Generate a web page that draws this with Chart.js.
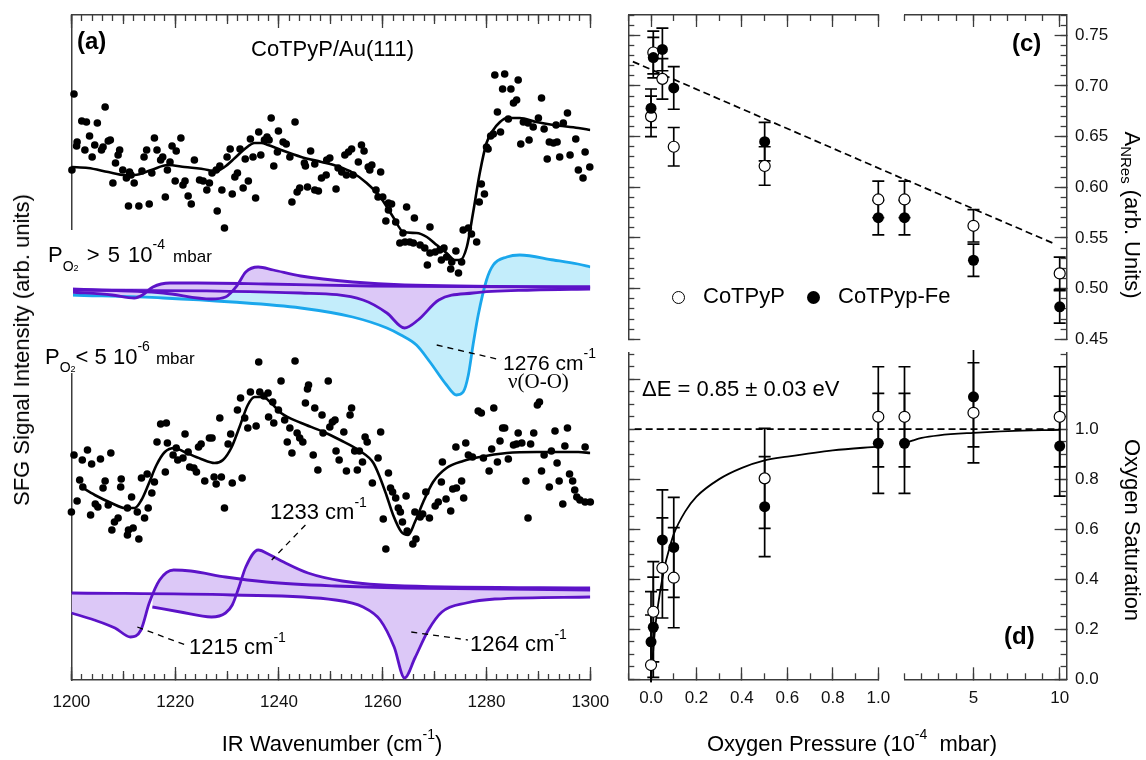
<!DOCTYPE html>
<html>
<head>
<meta charset="utf-8">
<script src="https://cdn.jsdelivr.net/npm/chart.js@4.4.1/dist/chart.umd.min.js"></script>
<style>
html,body{margin:0;padding:0;background:#fff;}
#wrap{position:relative;width:1146px;height:760px;overflow:hidden;background:#fff;font-family:"Liberation Sans",Arial,sans-serif;color:#000;}
canvas{position:absolute;}
.t{position:absolute;white-space:nowrap;line-height:1;z-index:5;}
.b{font-weight:bold;font-size:24px;}
.sup{font-size:14px;position:relative;top:-12px;}
.rot{position:absolute;white-space:nowrap;line-height:1;font-size:22px;z-index:5;}
.dot{position:absolute;width:13px;height:13px;border-radius:50%;box-sizing:border-box;z-index:5;}
</style>
</head>
<body>
<div id="wrap">
<canvas id="cA" width="620" height="730" style="left:0;top:0;width:620px;height:730px"></canvas>
<canvas id="cC1" width="320" height="350" style="left:600px;top:0;width:320px;height:350px"></canvas>
<canvas id="cC2" width="266" height="350" style="left:880px;top:0;width:266px;height:350px"></canvas>
<canvas id="cD1" width="320" height="380" style="left:600px;top:345px;width:320px;height:380px"></canvas>
<canvas id="cD2" width="266" height="380" style="left:880px;top:345px;width:266px;height:380px"></canvas>
<div style="position:absolute;left:68px;top:230px;width:4.5px;height:143px;background:#fff;z-index:4"></div>

<div class="t b" style="left:77px;top:28.7px">(a)</div>
<div class="t" style="left:251px;top:38.4px;font-size:22px">CoTPyP/Au(111)</div>
<div class="t" style="left:48px;top:244.4px;font-size:22px;word-spacing:2px">P<span style="font-size:14px;position:relative;top:9px">O<span style="font-size:9px">2</span></span> &gt; 5 10<span class="sup" style="top:-13px">-4</span> <span style="font-size:17px">mbar</span></div>
<div class="t" style="left:45px;top:346.4px;font-size:22px">P<span style="font-size:14px;position:relative;top:8px">O<span style="font-size:9px">2</span></span>&lt; 5 10<span class="sup" style="top:-13px">-6</span> <span style="font-size:17px">mbar</span></div>
<div class="t" style="left:503px;top:352.2px;font-size:21px">1276 cm<span class="sup">-1</span></div>
<div class="t" style="left:508px;top:371.4px;font-size:21px;font-family:'Liberation Serif',serif">&nu;(O-O)</div>
<div class="t" style="left:270px;top:501.4px;font-size:22px">1233 cm<span class="sup">-1</span></div>
<div class="t" style="left:189px;top:636.4px;font-size:22px">1215 cm<span class="sup">-1</span></div>
<div class="t" style="left:470px;top:633.4px;font-size:22px">1264 cm<span class="sup">-1</span></div>

<div class="t b" style="left:1012px;top:30.7px">(c)</div>
<div class="dot" style="left:671.5px;top:290.5px;border:1.3px solid #000;background:#fff"></div>
<div class="t" style="left:703px;top:285.4px;font-size:22px">CoTPyP</div>
<div class="dot" style="left:806.5px;top:290.5px;background:#000"></div>
<div class="t" style="left:838px;top:285.4px;font-size:22px">CoTPyp-Fe</div>
<div class="t" style="left:642px;top:378.4px;font-size:22px">&Delta;E = 0.85 &plusmn; 0.03 eV</div>
<div class="t b" style="left:1004px;top:623.7px">(d)</div>

<div class="t" style="left:332px;top:733.4px;font-size:22px;transform:translateX(-50%)">IR Wavenumber (cm<span class="sup">-1</span>)</div>
<div class="t" style="left:852px;top:733.4px;font-size:22px;transform:translateX(-50%)">Oxygen Pressure (10<span class="sup">-4</span>&nbsp; mbar)</div>
<div class="rot" style="left:22px;top:350px;transform:translate(-50%,-50%) rotate(-90deg)">SFG Signal Intensity (arb. units)</div>
<div class="rot" style="left:1132px;top:215px;transform:translate(-50%,-50%) rotate(90deg)">A<span style="font-size:15px;position:relative;top:4px">NRes</span> (arb. Units)</div>
<div class="rot" style="left:1132px;top:530px;transform:translate(-50%,-50%) rotate(90deg)">Oxygen Saturation</div>
</div>

<script>
// ================= DATA =================
// Panel (a): tick labels
const aTickValues = [1200, 1220, 1240, 1260, 1280, 1300];

// Panel (a) upper spectrum (PO2 > 5e-4 mbar): measured points
const topWavenumber = [
 1200.5,1200.1,1201.1,1201.0,1202.0,1202.9,1203.5,1202.6,1204.0,1204.5,
 1205.0,1206.5,1205.8,1206.1,1207.1,1207.5,1208.5,1209.0,1209.3,1208.0,
 1209.9,1210.6,1211.2,1211.5,1212.1,1211.0,1213.0,1215.0,1213.6,1214.0,
 1214.5,1215.5,1216.0,1216.5,1217.2,1217.6,1218.1,1218.5,1219.0,1219.4,
 1220.2,1221.1,1220.0,1221.5,1221.9,1222.5,1223.1,1223.7,1224.7,1225.4,
 1226.1,1226.6,1227.1,1227.9,1228.6,1228.1,1229.0,1229.5,1230.0,1230.6,
 1231.0,1231.5,1232.0,1232.5,1233.1,1233.5,1234.1,1234.5,1235.0,1235.5,
 1236.1,1236.5,1237.2,1237.7,1238.1,1238.5,1239.0,1239.9,1239.7,1240.8,
 1241.4,1242.1,1242.5,1243.1,1243.5,1244.0,1244.9,1245.1,1245.5,1246.1,
 1246.9,1246.9,1247.6,1248.2,
 1249.2,1249.8,1249.1,1251.0,1251.4,1252.1,1252.7,1253.4,1254.0,1253.0,
 1254.3,1255.3,1255.9,1256.4,1257.2,1257.9,1257.5,1259.6,1258.7,1259.1,
 1260.0,1261.1,1261.7,1261.1,1260.6,1262.5,1264.6,1263.9,1266.1,1263.3,
 1264.3,1265.2,1265.9,1267.2,1269.1,1268.1,1270.1,1269.1,1271.0,1271.8,
 1271.3,1272.3,1274.1,1268.6,1273.3,1273.1,1274.6,1275.2,1275.5,1276.5,
 1277.1,1278.1,1278.6,1279.0,1279.6,1280.0,1280.3,1280.8,1281.3,1282.1,
 1282.7,1284.2,1285.2,1285.8,1281.6,1283.5,1283.1,1284.7,1286.1,1286.6,
 1288.2,1287.1,1288.0,1289.0,1290.0,1290.6,1291.1,1291.7,1292.1,1292.9,
 1293.6,1293.4,1294.1,1294.8,1295.6,1296.1,1297.2,1297.7,1299.0,1298.6,
 1299.9];
const topSignal = [
 586,510,538,534,559,558,544,530,523,535,
 557,573,530,533,539,540,517,525,530,497,
 510,502,508,505,497,474,474,476,509,523,
 530,507,542,530,520,523,483,510,518,534,
 529,542,499,495,499,484,476,520,500,499,
 490,497,507,510,514,469,490,452,523,531,
 486,503,507,531,492,521,499,541,523,482,
 548,525,540,543,540,562,514,549,528,538,
 536,523,478,558,488,492,517,514,493,529,
 516,490,489,502,
 520,522,505,491,512,508,525,528,531,505,
 505,518,535,529,513,515,510,508,490,483,
 483,477,476,470,459,458,473,447,462,437,
 438,438,437,435,453,432,428,427,430,432,
 420,423,429,415,418,411,407,418,450,452,
 446,438,478,496,486,533,531,544,546,568,
 548,561,577,580,605,606,591,591,600,536,
 540,558,557,553,562,582,551,521,538,537,
 538,555,523,557,567,525,541,510,528,502,
 513];

// Upper fit
const topFitWavenumber = [1200,1203.2,1207.1,1210.3,1212.2,1215.4,1218.6,1221.8,1226.3,1227.6,
 1229.5,1231.5,1233.4,1235.3,1236.6,1237.9,1240.4,1244.3,1248.2,1251.1,
 1254.3,1256.9,1259.5,1262.0,1264.0,1266.5,1268.5,1270.4,1272.3,1273.9,
 1274.9,1276.2,1277.4,1278.7,1280.0,1281.3,1282.6,1283.9,1286.4,1289.6,
 1292.9,1297.7,1300];
const topFitSignal = [513,512,508,505,505,510,515,513,510,508,
 513,522,531,537,537,535,530,523,518,514,
 507,497,483,463,448,447,443,435,427,420,
 420,433,467,507,537,550,558,562,562,558,
 555,552,550];

// Upper components (baseline 392)
const topBaseline = 392;
const cyan1276Wavenumber = [1200,1217.7,1231,1244.2,1254.2,1260.8,1263.5,1266.5,1269.1,1272.3,1274.2,1275.5,1276.5,1277.4,1278.4,1280.0,1281.3,1283.9,1286.4,1292.9,1297.6,1300];
const cyan1276Signal     = [385,382,378,372,363,352,345,335,318,295,285,288,305,335,365,400,415,423,425,420,416,413];
const topC1215Wavenumber = [1200,1207.8,1212.1,1213.7,1215.7,1219,1224.3,1237.6,1257.5,1300];
const topC1215Signal     = [388,385,382,385,393,397,397,396,394,393];
const topC1233Wavenumber = [1200,1217.7,1227,1229.7,1232,1233.6,1236,1238.9,1244.2,1254.2,1264.2,1300];
const topC1233Signal     = [391,387,381,383,395,408,413,410,404,398,395,393];
const topC1264Wavenumber = [1200,1244.2,1256.2,1260.8,1264.2,1266.8,1270.8,1277.4,1289,1300];
const topC1264Signal     = [390,387,380,367,352,360,380,387,390,391];

// Panel (a) lower spectrum (PO2 < 5e-6 mbar)
const bottomWavenumber = [
 1200.5,1203.1,1202.1,1203.9,1205.6,1207.6,1201.6,1202.2,1201.1,1200.0,
 1203.7,1204.6,1205.1,1206.1,1206.5,1207.1,1208.3,1209.0,1207.8,1209.6,
 1209.5,1211.6,1210.8,1211.0,1211.9,1210.8,1213.0,1212.7,1214.1,1214.8,
 1213.5,1214.6,1215.5,1216.0,1216.5,1217.2,1218.3,1218.1,1218.5,1219.6,
 1220.2,1220.5,1221.5,1221.9,1222.5,1222.8,1223.6,1224.1,1224.5,1225.0,
 1225.7,1226.6,1227.1,1227.5,1227.9,1228.9,1228.6,1229.5,1230.2,1230.7,
 1231.0,1232.0,1232.6,1232.9,1233.4,1234.0,1234.5,1235.6,1236.1,1236.3,
 1237.1,1237.9,1238.0,1238.8,1239.0,1240.4,1239.9,1241.1,1241.6,1242.1,
 1242.5,1243.1,1243.5,1244.0,1244.6,1245.1,1245.7,1245.5,1246.6,1246.9,
 1247.5,1248.3,1248.5,
 1249.5,1250.3,1250.8,1249.8,1252.5,1251.0,1251.6,1254.0,1253.7,1253.0,
 1254.6,1255.1,1255.5,1256.1,1256.6,1257.0,1258.0,1259.1,1259.6,1261.1,
 1261.5,1261.9,1260.1,1262.5,1263.0,1263.4,1264.5,1263.8,1264.7,1265.8,
 1266.4,1260.6,1266.2,1267.2,1267.7,1268.3,1269.0,1270.1,1270.7,1271.3,
 1272.2,1271.5,1273.1,1273.5,1274.2,1275.2,1275.6,1274.1,1276.0,1276.5,
 1277.3,1278.4,1279.0,1279.4,1280.5,1281.0,1281.4,1282.1,1282.6,1283.1,
 1283.5,1284.2,1285.2,1285.8,1286.1,1286.8,1287.6,1288.0,1288.5,1289.1,
 1289.8,1290.2,1290.6,1291.1,1292.1,1292.5,1293.2,1293.6,1294.0,1294.7,
 1295.1,1295.6,1296.0,1296.6,1297.0,1297.4,1298.0,1299.0,1300.0,1299.0];
const bottomSignal = [
 225,230,220,216,221,227,200,193,179,168,
 165,176,173,192,199,175,158,162,150,201,
 193,183,172,150,152,145,141,168,162,172,
 202,206,187,198,238,256,257,208,237,225,
 232,220,222,246,228,213,212,208,233,236,
 199,242,242,203,196,203,262,172,236,246,
 197,270,282,202,262,252,288,254,318,288,
 284,287,263,278,257,299,270,260,238,252,
 227,319,247,242,238,277,295,291,225,272,
 210,265,247,
 299,258,260,253,248,229,220,272,265,209,
 229,210,229,218,243,238,197,222,248,207,
 192,188,161,182,172,168,184,158,149,136,
 141,131,168,163,166,188,162,174,178,198,
 181,218,169,191,192,199,182,233,237,225,
 223,269,267,222,209,231,272,218,239,252,
 252,221,235,236,247,237,199,162,236,247,
 275,278,209,225,193,229,249,217,199,176,
 234,252,206,199,190,183,180,178,178,233];

// Lower fit
const bottomFitWavenumber = [1201.9,1204.5,1207.7,1210.3,1212.2,1213.5,1214.8,1216.4,1218,1219.9,
 1221.8,1225,1227.6,1229.2,1230.8,1232.4,1234,1235.3,1236.9,1238.5,
 1240.4,1244.3,1248.2,1251.8,1255.6,1258.2,1259.5,1260.7,1262,1263.6,
 1264.9,1266.2,1267.8,1269.7,1272.3,1275.5,1278.7,1283.9,1289.7,1297.7,1300];
const bottomFitSignal = [193,185,177,172,172,180,195,215,228,232,
 228,221,217,220,232,253,275,283,283,277,
 267,257,249,240,229,217,202,185,165,148,
 145,158,178,198,212,219,223,227,228,228,227];

// Lower components (baseline 87)
const bottomBaseline = 87;
const botC1215Wavenumber = [1200,1204.4,1208.4,1211.4,1213.4,1215.0,1217.0,1219.7,1223.0,1229.7,1237.6,1250.9,1264.2,1300];
const botC1215Signal     = [67,60,52,43,50,77,100,110,109,103,98,94,92,90];
const botC1233Wavenumber = [1215.6,1221.0,1227.0,1229.7,1231.0,1232.3,1233.6,1236.0,1238.3,1240.9,1245.6,1252.2,1264.2,1300];
const botC1233Signal     = [73,68,63,67,75,93,113,130,125,118,107,99,94,92];
const botC1264Wavenumber = [1200,1231,1250.9,1256.2,1259.5,1262.2,1264.2,1266.2,1268.8,1271.4,1276.1,1281.6,1300];
const botC1264Signal     = [87,85,80,73,60,33,2,22,50,68,77,81,83];

// Annotation leader lines (wavenumber, signal)
const lead1276Wavenumber = [1270.4, 1282.8], lead1276Signal = [335, 320];
const lead1233Wavenumber = [1245.1, 1238.6], lead1233Signal = [155, 120];
const lead1215Wavenumber = [1212.7, 1222.0], lead1215Signal = [53, 35];
const lead1264Wavenumber = [1265.5, 1276.4], lead1264Signal = [48, 40];

// Panels (c),(d): oxygen pressure (1e-4 mbar)
const pressure       = [0, 0.01, 0.05, 0.1, 0.5, 1, 5, 10];
const anresCoTPyP    = [0.670, 0.733, 0.707, 0.640, 0.621, 0.588, 0.562, 0.515];
const anresCoTPyPErr = [0.020, 0.021, 0.020, 0.019, 0.019, 0.018, 0.016, 0.016];
const anresFe        = [0.678, 0.728, 0.736, 0.698, 0.645, 0.570, 0.528, 0.482];
const anresFeErr     = [0.019, 0.020, 0.021, 0.021, 0.019, 0.017, 0.016, 0.016];
const satCoTPyP      = [0.057, 0.270, 0.445, 0.406, 0.803, 1.049, 1.065, 1.049];
const satFe          = [0.150, 0.208, 0.557, 0.527, 0.690, 0.943, 1.129, 0.932];
const satErr         = [0.2, 0.2, 0.2, 0.2, 0.2, 0.2, 0.2, 0.2];
// Dashed trend in (c) (left segment / right segment)
const trendLeftP = [-0.08, 1.113], trendLeftA = [0.724, 0.608];
const trendRightP = [1, 9.59], trendRightA = [0.608, 0.545];
// Dashed saturation level in (d)
const satLevelLeftP = [-0.072, 1.113], satLevelLeftS = [1, 1];
const satLevelRightP = [1, 10], satLevelRightS = [1, 1];
// Solid fit in (d)
const fitLeftP = [0, 0.01, 0.02, 0.04, 0.06, 0.08, 0.1, 0.15, 0.2, 0.3, 0.4, 0.5, 0.6, 0.8, 1.0];
const fitLeftS = [0, 0.12, 0.22, 0.35, 0.45, 0.52, 0.58, 0.67, 0.73, 0.80, 0.845, 0.875, 0.89, 0.915, 0.93];
const fitRightP = [1, 1.5, 2, 3, 5, 7, 10];
const fitRightS = [0.943, 0.955, 0.965, 0.975, 0.985, 0.992, 0.997];

// Tick lists for (c),(d)
const pLeftTicks = [0, 0.2, 0.4, 0.6, 0.8, 1.0];
const pLeftLabels = ['0.0', '0.2', '0.4', '0.6', '0.8', '1.0'];
const pRightTicks = [5, 10];
const pRightLabels = ['5', '10'];
const anresTicks = [0.45, 0.50, 0.55, 0.60, 0.65, 0.70, 0.75];
const anresLabels = ['0.45', '0.50', '0.55', '0.60', '0.65', '0.70', '0.75'];
const satTicks = [0, 0.2, 0.4, 0.6, 0.8, 1.0];
const satLabels = ['0.0', '0.2', '0.4', '0.6', '0.8', '1.0'];
const satMajorTicks = [0, 0.2, 0.4, 0.6, 0.8, 1.0, 1.2];

// ================= HELPERS =================
const FONT = "'Liberation Sans', Arial, sans-serif";
Chart.defaults.font.family = FONT;
Chart.defaults.color = '#111';
const AX = '#3c3c3c';
const PURPLE = '#5c13c8', PURPLE_FILL = '#dcc8f7';
const CYAN = '#1aa7ec', CYAN_FILL = '#c3edfb';

const pts = (xs, ys) => xs.map((x, i) => ({x: x, y: ys[i]}));
const sel = (arr, idx) => idx.map(i => arr[i]);
const L = pressure.map((p, i) => p <= 1 ? i : -1).filter(i => i >= 0);
const R = pressure.map((p, i) => p >= 1 ? i : -1).filter(i => i >= 0);

function zeroPad(s) { s.paddingLeft = 0; s.paddingRight = 0; s.paddingTop = 0; s.paddingBottom = 0; }

function axis(o) {
  const horiz = (o.pos === 'top' || o.pos === 'bottom');
  const cfg = {
    type: 'linear', position: o.pos, min: o.min, max: o.max, weight: o.weight || 0,
    afterFit: s => { if (horiz) s.height = o.size || 0; else s.width = o.size || 0; zeroPad(s); },
    grid: {display: true, drawOnChartArea: false, drawTicks: true, tickLength: -o.len, tickColor: AX, tickWidth: 1.3},
    border: {display: !!o.border, color: AX, width: 1.5},
    ticks: {display: !!o.labels, autoSkip: false, maxRotation: 0, minRotation: 0, padding: o.pad || 0,
            color: '#111', font: {family: FONT, size: 17}, maxTicksLimit: 1000, includeBounds: false}
  };
  if (o.list) cfg.afterBuildTicks = s => { s.ticks = o.list.map(v => ({value: v})); };
  else cfg.ticks.stepSize = o.step;
  if (o.labels) cfg.ticks.callback = (v, i) => o.labels[i];
  return cfg;
}

const errorBarPlugin = {
  id: 'errorBars',
  beforeDatasetsDraw(chart) {
    const ctx = chart.ctx, a = chart.chartArea;
    ctx.save();
    ctx.beginPath();
    ctx.rect(a.left - 12, a.top - 3, a.right - a.left + 24, a.bottom - a.top + 6);
    ctx.clip();
    chart.data.datasets.forEach((ds, i) => {
      if (!ds.errors) return;
      const meta = chart.getDatasetMeta(i);
      const ys = chart.scales[meta.yAxisID];
      meta.data.forEach((pt, j) => {
        const v = ds.data[j].y, e = ds.errors[j];
        const y1 = ys.getPixelForValue(v + e), y2 = ys.getPixelForValue(v - e);
        ctx.strokeStyle = '#000'; ctx.lineWidth = 1.7;
        ctx.beginPath();
        ctx.moveTo(pt.x, y1); ctx.lineTo(pt.x, y2);
        ctx.moveTo(pt.x - 6, y1); ctx.lineTo(pt.x + 6, y1);
        ctx.moveTo(pt.x - 6, y2); ctx.lineTo(pt.x + 6, y2);
        ctx.stroke();
      });
    });
    ctx.restore();
  }
};

function makeChart(id, padding, scales, datasets) {
  return new Chart(document.getElementById(id), {
    type: 'line',
    data: {datasets: datasets},
    options: {
      responsive: false, animation: false, events: [], devicePixelRatio: 1,
      layout: {padding: padding, autoPadding: false},
      plugins: {legend: {display: false}, tooltip: {enabled: false}, filler: {drawTime: 'beforeDatasetsDraw'}},
      scales: scales,
      elements: {line: {borderJoinStyle: 'round'}}
    },
    plugins: [errorBarPlugin]
  });
}

function line(xs, ys, color, width, extra) {
  return Object.assign({data: pts(xs, ys), borderColor: color, borderWidth: width, pointRadius: 0,
    pointHoverRadius: 0, fill: false, tension: 0, xAxisID: 'x', yAxisID: 'y'}, extra || {});
}
function smooth(xs, ys, color, width, extra) {
  return line(xs, ys, color, width, Object.assign({cubicInterpolationMode: 'monotone'}, extra || {}));
}
function dots(xs, ys, extra) {
  return Object.assign({data: pts(xs, ys), showLine: false, pointRadius: 3.8, pointHoverRadius: 3.8,
    pointBackgroundColor: '#000', pointBorderWidth: 0, borderColor: '#000', xAxisID: 'x', yAxisID: 'y', clip: 6, order: 0}, extra || {});
}
const hidden = (min, max) => ({type: 'linear', min: min, max: max, display: false, afterFit: zeroPad});

// ================= PANEL (a) =================
makeChart('cA', {left: 71.4, right: 29.7, top: 15, bottom: 10}, {
  x:    axis({pos: 'bottom', min: 1200, max: 1300, list: aTickValues, len: 13, labels: aTickValues.map(String), pad: 24.8, size: 40, weight: 2, border: true}),
  xb10: axis({pos: 'bottom', min: 1200, max: 1300, step: 10, len: 9}),
  xb2:  axis({pos: 'bottom', min: 1200, max: 1300, step: 2, len: 6}),
  xt:   axis({pos: 'top', min: 1200, max: 1300, list: aTickValues, len: 13, weight: 2, border: true}),
  xt10: axis({pos: 'top', min: 1200, max: 1300, step: 10, len: 9}),
  xt2:  axis({pos: 'top', min: 1200, max: 1300, step: 2, len: 6}),
  y: {type: 'linear', position: 'left', min: 0, max: 665, afterFit: s => { s.width = 0; zeroPad(s); },
      grid: {display: false}, ticks: {display: false}, border: {display: true, color: AX, width: 1.5}}
}, [
  dots(topWavenumber, topSignal),
  dots(bottomWavenumber, bottomSignal),
  smooth(topFitWavenumber, topFitSignal, '#000', 2.6, {order: 1}),
  smooth(bottomFitWavenumber, bottomFitSignal, '#000', 2.6, {order: 1}),
  line(lead1276Wavenumber, lead1276Signal, '#000', 1.3, {borderDash: [6, 5], order: 1}),
  line(lead1233Wavenumber, lead1233Signal, '#000', 1.3, {borderDash: [6, 5], order: 1}),
  line(lead1215Wavenumber, lead1215Signal, '#000', 1.3, {borderDash: [6, 5], order: 1}),
  line(lead1264Wavenumber, lead1264Signal, '#000', 1.3, {borderDash: [6, 5], order: 1}),
  smooth(topC1215Wavenumber, topC1215Signal, PURPLE, 2.8, {fill: {value: topBaseline}, backgroundColor: PURPLE_FILL, order: 2}),
  smooth(topC1233Wavenumber, topC1233Signal, PURPLE, 2.8, {fill: {value: topBaseline}, backgroundColor: PURPLE_FILL, order: 2}),
  smooth(topC1264Wavenumber, topC1264Signal, PURPLE, 2.8, {fill: {value: topBaseline}, backgroundColor: PURPLE_FILL, order: 2}),
  smooth(botC1215Wavenumber, botC1215Signal, PURPLE, 2.8, {fill: {value: bottomBaseline}, backgroundColor: PURPLE_FILL, order: 2}),
  smooth(botC1233Wavenumber, botC1233Signal, PURPLE, 2.8, {fill: {value: bottomBaseline}, backgroundColor: PURPLE_FILL, order: 2}),
  smooth(botC1264Wavenumber, botC1264Signal, PURPLE, 2.8, {fill: {value: bottomBaseline}, backgroundColor: PURPLE_FILL, order: 2}),
  smooth(cyan1276Wavenumber, cyan1276Signal, CYAN, 2.8, {fill: {value: topBaseline}, backgroundColor: CYAN_FILL, order: 3})
]);

// ================= PANELS (c),(d) =================
function markers(xs, ys, errs, filled) {
  return {data: pts(xs, ys), errors: errs, showLine: false, pointRadius: 5.5, pointHoverRadius: 5.5,
    pointBackgroundColor: filled ? '#000' : '#fff', pointBorderColor: '#000', pointBorderWidth: filled ? 0 : 1.2,
    borderColor: '#000', xAxisID: 'x', yAxisID: 'y', clip: false, order: filled ? 0 : 1};
}

// (c) left segment
makeChart('cC1', {left: 28.3, right: 41.7, top: 15, bottom: 10.7}, {
  x:   hidden(-0.1, 1.0),
  xt:  axis({pos: 'top', min: -0.1, max: 1.0, list: pLeftTicks, len: 12, weight: 2, border: true}),
  xt1: axis({pos: 'top', min: -0.1, max: 1.0, step: 0.1, len: 6}),
  y:   axis({pos: 'left', min: 0.45, max: 0.77, list: anresTicks, len: 12, weight: 2, border: true}),
  ym:  axis({pos: 'left', min: 0.45, max: 0.77, step: 0.01, len: 6})
}, [
  markers(sel(pressure, L), sel(anresFe, L), sel(anresFeErr, L), true),
  markers(sel(pressure, L), sel(anresCoTPyP, L), sel(anresCoTPyPErr, L), false),
  line(trendLeftP, trendLeftA, '#000', 1.7, {borderDash: [7, 4], clip: false, order: 3})
]);

// (c) right segment
makeChart('cC2', {left: 24.5, right: 29.4, top: 15, bottom: 10.7}, {
  x:   hidden(1, 10.4),
  xt:  axis({pos: 'top', min: 1, max: 10.4, list: pRightTicks, len: 12, weight: 2, border: true}),
  xt1: axis({pos: 'top', min: 1, max: 10.4, step: 1, len: 6}),
  y:   axis({pos: 'right', min: 0.45, max: 0.77, list: anresTicks, len: 12, labels: anresLabels, pad: 20.4, size: 50, weight: 2, border: true}),
  ym:  axis({pos: 'right', min: 0.45, max: 0.77, step: 0.01, len: 6})
}, [
  markers(sel(pressure, R), sel(anresFe, R), sel(anresFeErr, R), true),
  markers(sel(pressure, R), sel(anresCoTPyP, R), sel(anresCoTPyPErr, R), false),
  line(trendRightP, trendRightA, '#000', 1.7, {borderDash: [7, 4], clip: false, order: 3})
]);

// (d) left segment
makeChart('cD1', {left: 28.3, right: 41.7, top: 8, bottom: 5.7}, {
  x:  axis({pos: 'bottom', min: -0.1, max: 1.0, list: pLeftTicks, len: 12, labels: pLeftLabels, pad: 20.5, size: 40, weight: 2, border: true}),
  xm: axis({pos: 'bottom', min: -0.1, max: 1.0, step: 0.1, len: 6}),
  y:  axis({pos: 'left', min: 0, max: 1.304, list: satMajorTicks, len: 12, weight: 2, border: true}),
  ym: axis({pos: 'left', min: 0, max: 1.304, step: 0.05, len: 6})
}, [
  markers(sel(pressure, L), sel(satFe, L), sel(satErr, L), true),
  markers(sel(pressure, L), sel(satCoTPyP, L), sel(satErr, L), false),
  smooth(fitLeftP, fitLeftS, '#000', 1.8, {order: 2}),
  line(satLevelLeftP, satLevelLeftS, '#000', 1.7, {borderDash: [7, 4], clip: false, order: 3})
]);

// (d) right segment
makeChart('cD2', {left: 24.5, right: 29.4, top: 8, bottom: 5.7}, {
  x:  axis({pos: 'bottom', min: 1, max: 10.4, list: pRightTicks, len: 12, labels: pRightLabels, pad: 20.5, size: 40, weight: 2, border: true}),
  xm: axis({pos: 'bottom', min: 1, max: 10.4, step: 1, len: 6}),
  y:  axis({pos: 'right', min: 0, max: 1.304, list: satTicks, len: 12, labels: satLabels, pad: 20.4, size: 50, weight: 2, border: true}),
  ym: axis({pos: 'right', min: 0, max: 1.304, step: 0.05, len: 6})
}, [
  markers(sel(pressure, R), sel(satFe, R), sel(satErr, R), true),
  markers(sel(pressure, R), sel(satCoTPyP, R), sel(satErr, R), false),
  smooth(fitRightP, fitRightS, '#000', 1.8, {order: 2}),
  line(satLevelRightP, satLevelRightS, '#000', 1.7, {borderDash: [7, 4], clip: false, order: 3})
]);
</script>
</body>
</html>
